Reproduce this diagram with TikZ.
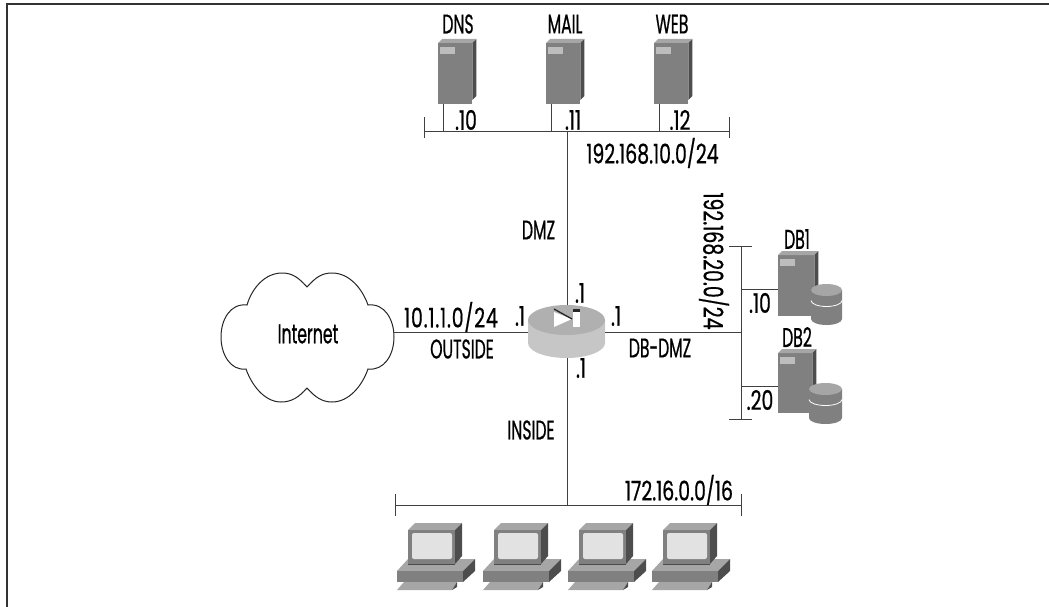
\documentclass[tikz,border=0pt]{standalone}
\usepackage{fontspec}
\setmainfont[FakeStretch=0.58,FakeBold=0.6]{Poppins}
\newfontfamily\numfont[FakeStretch=0.70,FakeBold=0.6]{Poppins}
\usepackage{tikz}
\usetikzlibrary{positioning}

\definecolor{srvfront}{HTML}{808080}
\definecolor{srvtop}{HTML}{A6A6A6}
\definecolor{srvside}{HTML}{4D4D4D}
\definecolor{srvlabel}{HTML}{BDBDBD}
\definecolor{rtrtop}{HTML}{B0B0B0}
\definecolor{rtrside}{HTML}{C6C6C6}
\definecolor{pcscreen}{HTML}{E2E2E2}
\definecolor{framegray}{HTML}{333333}

\tikzset{
    wire/.style={draw=black!75, line width=0.9pt},
    lbl/.style={font=\fontsize{27}{30}\selectfont, inner sep=0pt, text=black},
    netlbl/.style={font=\fontsize{27}{30}\selectfont\numfont, inner sep=0pt, text=black},
    front/.style={fill=srvfront, draw=none, inner sep=0pt, anchor=north west}
}

% server box: #1 name, #2 x, #3 y, #4 width, #5 height
\newcommand{\serverbox}[5]{
    \node[front, minimum width=#4, minimum height=#5] (#1) at (#2, #3) {};
    \fill[srvtop] (#1.north west) -- ++(4, -4) -- ++(#4, 0) -- (#1.north east) -- cycle;
    \fill[srvside] (#1.north east) -- ++(4, -4) -- ++(0, #5-4) -- ++(-4, 4) -- cycle;
    \fill[srvlabel] ([shift={(2, 4)}]#1.north west) rectangle ++(15, 7);
}

% disk stack: #1 name, #2 x centre, #3 top y, #4 half width, #5 stack height
\newcommand{\diskstack}[5]{
    \fill[srvfront] (#2-#4, #3) -- (#2-#4, #3+#5) arc[start angle=180, end angle=0, x radius=#4, y radius=6]
        -- (#2+#4, #3) -- cycle;
    \draw[white, line width=0.8pt] (#2-#4, #3+#5/2-4) arc[start angle=180, end angle=0, x radius=#4, y radius=6];
    \fill[srvtop] (#2, #3) ellipse[x radius=#4, y radius=6];
    \coordinate (#1) at (#2, #3);
}

% pc: #1 name, #2 x, #3 y of monitor top left
\newcommand{\pcbox}[3]{
    \begin{scope}[shift={(#2, #3)}]
        \coordinate (#1) at (0, 0);
        % base
        \fill[srvtop] (-11, 41) -- (0, 29) -- (67, 29) -- (55, 41) -- cycle;
        \fill[srvfront] (-11, 41) rectangle (55, 52);
        \fill[srvside] (55, 41) -- (67, 29) -- (67, 41) -- (55, 52) -- cycle;
        % monitor
        \fill[srvtop] (0, 0) -- (7, -7) -- (54, -7) -- (47, 0) -- cycle;
        \fill[srvside] (47, 0) -- (54, -7) -- (54, 26) -- (47, 34) -- cycle;
        \fill[srvfront] (0, 0) rectangle (47, 34);
        \fill[black!70] (0, 34) rectangle (47, 35);
        \fill[pcscreen, rounded corners=2pt] (4, 3) rectangle (44, 29);
        % keyboard
        \fill[srvtop] (-11, 60) -- (-4, 52) -- (49, 52) -- (44, 60) -- cycle;
        \fill[srvside] (44, 60) -- (49, 52) -- (49, 57) -- (44, 60) -- cycle;
    \end{scope}
}

\begin{document}
\begin{tikzpicture}[x=1pt, y=-1pt]

\useasboundingbox (0, 0) rectangle (1049, 607);

% --- Frame ---
\draw[framegray, line width=1.2pt] (7, 607) -- (7, 4) -- (1049, 4);

% --- Cloud ---
\draw[black!85, line width=1pt, fill=white]
    (307, 287) .. controls (298, 277) and (292, 273) .. (282, 273)
    .. controls (265, 273) and (252, 288) .. (247, 305)
    .. controls (230, 303) and (221, 320) .. (221, 337)
    .. controls (221, 355) and (231, 371) .. (246, 369)
    .. controls (252, 386) and (265, 402) .. (281, 402)
    .. controls (292, 402) and (299, 397) .. (307, 388)
    .. controls (315, 397) and (322, 402) .. (332, 402)
    .. controls (349, 402) and (362, 386) .. (368, 369)
    .. controls (384, 371) and (394, 355) .. (394, 337)
    .. controls (394, 320) and (385, 303) .. (368, 305)
    .. controls (362, 288) and (349, 273) .. (332, 273)
    .. controls (322, 273) and (316, 277) .. (307, 287) -- cycle;
\node[lbl] (internet) at (308, 334) {Internet};
\coordinate (cloudeast) at (394, 332);

% --- Router ---
\coordinate (rtrwest) at (528, 332);
\coordinate (rtreast) at (605, 332);
\coordinate (rtrnorth) at (567, 305);
\coordinate (rtrsouth) at (567, 358);
\fill[rtrside] (528, 320) -- (528, 343) arc[start angle=180, end angle=0, x radius=38.5, y radius=15]
    -- (605, 320) -- cycle;
\fill[rtrtop] (566.5, 320) ellipse[x radius=38.5, y radius=15];
\fill[white] (554, 312) -- (554, 327) -- (572, 319) -- cycle;
\fill[white] (573, 312) rectangle (580, 327);
\fill[black!85] (573, 309) rectangle (580, 312);
\draw[black!85, line width=1.3pt] (554, 309) -- (572, 319);

% --- DMZ segment ---
\coordinate (dmzwest) at (424, 131);
\coordinate (dmzeast) at (729.5, 131);
\coordinate (dmztap) at (567, 131);
\draw[wire] (dmzwest) -- (dmzeast);
\draw[wire] ([yshift=14]dmzeast) -- ([yshift=-7]dmzeast);
\draw[wire] ([yshift=14]dmzwest) -- ([yshift=-7]dmzwest);
\draw[wire] (dmztap) -- (rtrnorth);

\foreach \nm/\x/\tx/\txt/\ip/\ipx in {dns/438/458/DNS/.10/466, mail/546/565/MAIL/.11/573, web/654/672/WEB/.12/680} {
    \serverbox{\nm}{\x}{43}{34}{61}
    \coordinate (\nm tap) at (\x+5, 131);
    \draw[wire] ([xshift=5]\nm.south west) -- (\nm tap);
    \node[lbl] (\nm txt) at (\tx, 24) {\txt};
    \node[netlbl] (\nm ip) at (\ipx, 120) {\ip};
}
\node[netlbl] (dmznet) at (652.5, 153) {192.168.10.0/24};
\node[lbl] (dmzlbl) at (538.5, 230) {DMZ};
\node[netlbl] (dmzone) at (580, 293) {.1};

% --- DB segment ---
\coordinate (dbtop) at (741, 246);
\coordinate (dbbot) at (741, 419);
\coordinate (dbtap) at (741, 332);
\draw[wire] (dbtop) -- (dbbot);
\draw[wire] (729, 246) -- (752, 246);
\draw[wire] (729, 419) -- (752, 419);
\draw[wire] (rtreast) -- (dbtap);
\serverbox{dbone}{778}{255}{36}{61}
\serverbox{dbtwo}{778}{353}{34}{60}
\diskstack{diskone}{826.5}{290}{15.5}{29}
\diskstack{disktwo}{825.5}{389}{16.5}{29}
\draw[wire] (741, 289) -- (dbone.west |- 741, 289);
\draw[wire] (741, 386) -- (dbtwo.west |- 741, 386);
\node[lbl] (dbonetxt) at (797, 239) {DB1};
\node[lbl] (dbtwotxt) at (797, 337) {DB2};
\node[netlbl] (dboneip) at (760, 303) {.10};
\node[netlbl] (dbtwoip) at (760, 400) {.20};
\node[netlbl, rotate=-90] (dbnet) at (714, 261) {192.168.20.0/24};
\node[lbl] (dbzlbl) at (660, 348) {DB-DMZ};
\node[netlbl] (dbzone) at (616, 316) {.1};

% --- Outside segment ---
\draw[wire] (cloudeast) -- (rtrwest);
\node[netlbl] (outnet) at (451, 317) {\addfontfeature{LetterSpace=3}10.1.1.0/24};
\node[lbl] (outlbl) at (462, 349) {OUTSIDE};
\node[netlbl] (outone) at (520, 316) {.1};

% --- Inside segment ---
\coordinate (inwest) at (395, 505);
\coordinate (ineast) at (741, 505);
\coordinate (intap) at (567, 505);
\draw[wire] (inwest) -- (ineast);
\draw[wire] ([yshift=-11]inwest) -- ([yshift=11]inwest);
\draw[wire] ([yshift=-11]ineast) -- ([yshift=11]ineast);
\draw[wire] ([xshift=-10]intap) -- ([xshift=12]intap);
\draw[wire] (rtrsouth) -- (intap);
\node[lbl] (inlbl) at (531, 430) {INSIDE};
\node[netlbl] (inone) at (581, 368) {.1};
\node[netlbl] (innet) at (679, 490) {172.16.0.0/16};

\foreach \nm/\x in {pca/408, pcb/494, pcc/579, pcd/663} {
    \pcbox{\nm}{\x}{530}
}

\end{tikzpicture}
\end{document}
